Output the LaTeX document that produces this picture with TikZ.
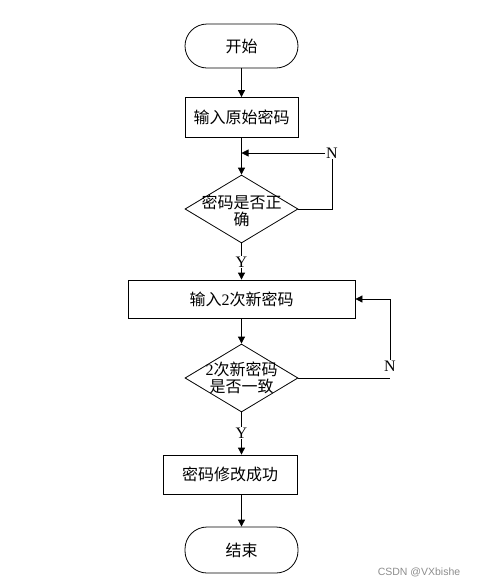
\documentclass[tikz,border=0pt]{standalone}
\usepackage{fontspec}
\setmainfont{Liberation Serif}
\newfontfamily\cjk{Noto Sans CJK SC}
\newfontfamily\wmfont{Liberation Sans}
\usetikzlibrary{shapes.geometric,arrows.meta}
\tikzset{
  base/.style={draw=black, line width=0.8pt, inner sep=0pt, font=\fontsize{16}{17}\selectfont\cjk},
  term/.style={base, rectangle, rounded corners=22pt, minimum width=113pt, minimum height=44pt},
  procbox/.style={base, rectangle, minimum height=40pt},
  decide/.style={base, diamond, minimum width=113pt, minimum height=68pt, aspect=1.66},
  lab/.style={inner sep=0pt, font=\fontsize{16}{17.5}\selectfont\cjk, align=center},
  yn/.style={inner sep=1pt, font=\fontsize{16}{17}\selectfont},
  conn/.style={line width=0.8pt, -{Triangle[width=7pt,length=7pt]}},
  plain/.style={line width=0.8pt}
}
\begin{document}
\begin{tikzpicture}[x=1pt,y=-1pt]
\useasboundingbox (0,0) rectangle (481,587);
\node[term] (start) at (241.5,46) {开始};
\node[procbox, minimum width=113pt] (p1) at (241.5,117.5) {输入原始密码};
\node[decide] (d1) at (241.5,209) {};
\node[lab] (d1t) at (241.5,211) {密码是否正\\确};
\node[procbox, minimum width=227pt, minimum height=38pt] (p2) at (241.5,299) {输入{\fontspec{Liberation Serif}2}次新密码};
\node[decide] (d2) at (241.5,378) {};
\node[lab] (d2t) at (241.5,378) {{\fontspec{Liberation Serif}2}次新密码\\是否一致};
\node[procbox, minimum width=134pt, minimum height=39pt] (p3) at (230,474.5) {密码修改成功};
\node[term, minimum height=46pt] (end) at (241.5,550) {结束};

\node[yn] (n1) at (332,153) {N};
\coordinate (j1) at (241.5,153);
\coordinate (c1) at (332,209);
\node[yn] (y1) at (241.5,262) {Y};
\node[yn] (n2) at (390,366) {N};
\coordinate (c2) at (390,378);
\coordinate (c3) at (390,299);
\node[yn] (y2) at (241.5,433) {Y};

\draw[conn] (start) -- (p1);
\draw[conn] (p1) -- (d1);
\draw[plain] (d1.east) -- (c1) -- (n1.south);
\draw[conn] (n1.west) -- (j1);
\draw[plain] (d1.south) -- (y1.north);
\draw[conn] (y1.south) -- (p2.north -| y1);
\draw[conn] (p2) -- (d2);
\draw[plain] (d2.east) -- (c2);
\draw[conn] (n2.north) -- (c3) -- (p2.east);
\draw[plain] (d2.south) -- (y2.north);
\draw[conn] (y2.south) -- (p3.north -| y2);
\draw[conn] (p3.south -| end) -- (end);

\node[inner sep=0pt, text=black!45, font=\fontsize{10.5}{12}\selectfont\wmfont] (wm) at (419,572) {CSDN @VXbishe};
\end{tikzpicture}
\end{document}
